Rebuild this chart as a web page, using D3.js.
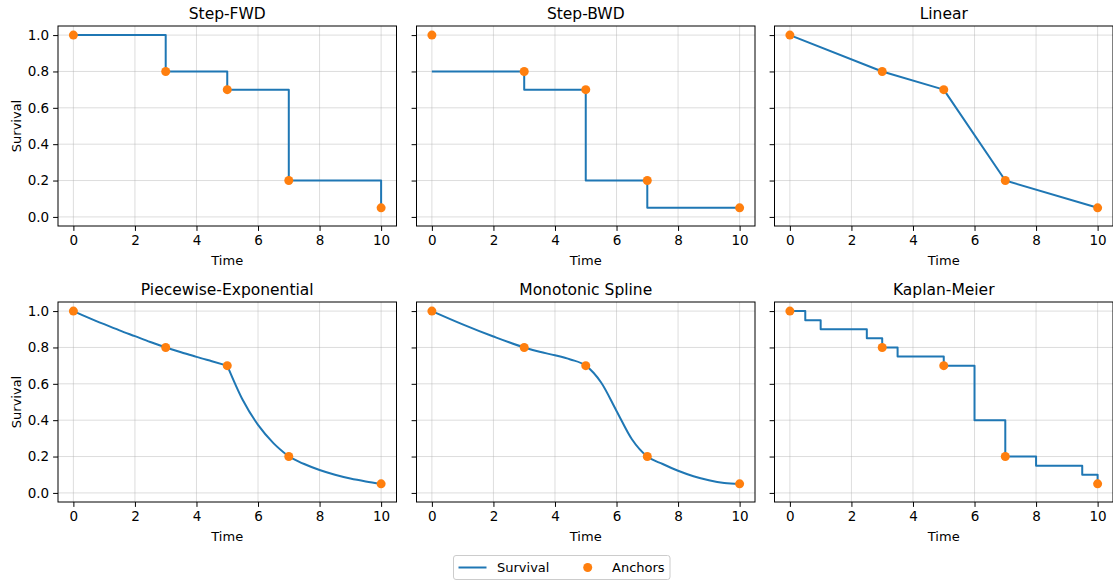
<!DOCTYPE html>
<html>
<head>
<meta charset="utf-8">
<script src="https://cdn.jsdelivr.net/npm/d3@7"></script>
<style>
  body { margin: 0; background: #fff; }
  text { font-family: "DejaVu Sans", sans-serif; fill: #000; }
</style>
</head>
<body>
<div id="my_dataviz"></div>
<script>
// anchor points shared by every panel
var anchorT = [0, 3, 5, 7, 10];
var anchorS = [1.0, 0.8, 0.7, 0.2, 0.05];

// step backward: value of the next anchor held over each interval
var bwdT = [0, 3, 5, 7, 10];
var bwdS = [0.8, 0.7, 0.2, 0.05, 0.05];

// piecewise-exponential curve
var pexpT = [0, 0.5, 1, 1.5, 2, 2.5, 3, 3.5, 4, 4.5, 5, 5.5, 6, 6.5, 7, 7.5, 8, 8.5, 9, 9.5, 10];
var pexpS = [1.0, 0.963, 0.928, 0.894, 0.862, 0.830, 0.8, 0.774, 0.748, 0.724, 0.7, 0.512, 0.374, 0.274, 0.2, 0.159, 0.126, 0.1, 0.079, 0.063, 0.05];

// monotonic spline curve
var splT = [0, 1, 2, 3, 3.5, 4, 4.5, 5, 5.5, 6, 6.5, 7, 7.5, 8, 8.5, 9, 9.5, 10];
var splS = [1.0, 0.927, 0.860, 0.8, 0.776, 0.757, 0.734, 0.7, 0.607, 0.451, 0.295, 0.2, 0.159, 0.122, 0.092, 0.070, 0.055, 0.05];

// Kaplan-Meier steps
var kmT = [0, 0.5, 1, 2.5, 3, 3.5, 5, 6, 7, 8, 9.5, 10];
var kmS = [1.0, 0.95, 0.9, 0.85, 0.8, 0.75, 0.7, 0.4, 0.2, 0.15, 0.1, 0.05];

var xTicks = [0, 2, 4, 6, 8, 10];
var yTicks = [0.0, 0.2, 0.4, 0.6, 0.8, 1.0];
var titles = ["Step-FWD", "Step-BWD", "Linear", "Piecewise-Exponential", "Monotonic Spline", "Kaplan-Meier"];

var blue = "#1f77b4", orange = "#ff7f0e";
var W = 1113, H = 581;
var colLeft = [58, 416.5, 774.5], colW = 338.5;
var rowTop = [26, 302], rowH = 200;

var svg = d3.select("#my_dataviz")
  .append("svg")
    .attr("width", W)
    .attr("height", H);

function zip(ts, ss) {
  return ts.map(function (t, i) { return [t, ss[i]]; });
}

var panels = [
  { lines: [{ pts: zip(anchorT, anchorS), curve: d3.curveStepAfter }] },
  { lines: [{ pts: zip(bwdT, bwdS), curve: d3.curveStepAfter }] },
  { lines: [{ pts: zip(anchorT, anchorS), curve: d3.curveLinear }] },
  { lines: d3.range(anchorT.length - 1).map(function (k) {
      // one smooth piece per interval between anchors, so the kinks stay
      var pts = zip(pexpT, pexpS).filter(function (p) { return p[0] >= anchorT[k] && p[0] <= anchorT[k + 1]; });
      return { pts: pts, curve: d3.curveMonotoneX };
    }) },
  { lines: [{ pts: zip(splT, splS), curve: d3.curveMonotoneX }] },
  { lines: [{ pts: zip(kmT, kmS), curve: d3.curveStepAfter }] }
];

panels.forEach(function (p, i) {
  var col = i % 3, row = Math.floor(i / 3);
  var g = svg.append("g")
    .attr("transform", "translate(" + colLeft[col] + "," + rowTop[row] + ")");

  var x = d3.scaleLinear().domain([-0.5, 10.5]).range([0, colW]);
  var y = d3.scaleLinear().domain([-0.05, 1.05]).range([rowH, 0]);

  // grid
  g.append("g").selectAll("line").data(xTicks).enter().append("line")
    .attr("x1", function (d) { return x(d); }).attr("x2", function (d) { return x(d); })
    .attr("y1", 0).attr("y2", rowH)
    .attr("stroke", "#b0b0b0").attr("stroke-opacity", 0.55).attr("stroke-width", 0.8);
  g.append("g").selectAll("line").data(yTicks).enter().append("line")
    .attr("y1", function (d) { return y(d); }).attr("y2", function (d) { return y(d); })
    .attr("x1", 0).attr("x2", colW)
    .attr("stroke", "#b0b0b0").attr("stroke-opacity", 0.55).attr("stroke-width", 0.8);

  // axes
  var xAxis = g.append("g")
    .attr("transform", "translate(0," + rowH + ")")
    .call(d3.axisBottom(x).tickValues(xTicks).tickFormat(d3.format("d")).tickSize(4.9).tickPadding(4.5));
  var yAxis = g.append("g")
    .call(d3.axisLeft(y).tickValues(yTicks).tickFormat(col === 0 ? d3.format(".1f") : function () { return ""; })
      .tickSize(4.9).tickPadding(4));
  [xAxis, yAxis].forEach(function (a) {
    a.select(".domain").remove();
    a.selectAll(".tick line").attr("stroke", "#000").attr("stroke-width", 1);
    a.selectAll(".tick text").style("font-size", "13.5px").style("font-family", "DejaVu Sans, sans-serif").attr("fill", "#000");
  });

  // lines
  var line = d3.line().x(function (d) { return x(d[0]); }).y(function (d) { return y(d[1]); });
  p.lines.forEach(function (l) {
    g.append("path")
      .attr("d", line.curve(l.curve)(l.pts))
      .attr("fill", "none")
      .attr("stroke", blue)
      .attr("stroke-width", 2)
      .attr("stroke-linejoin", "round");
  });

  // anchors
  g.append("g").selectAll("circle").data(zip(anchorT, anchorS)).enter().append("circle")
    .attr("cx", function (d) { return x(d[0]); })
    .attr("cy", function (d) { return y(d[1]); })
    .attr("r", 4.5)
    .attr("fill", orange);

  // frame
  g.append("rect")
    .attr("width", colW).attr("height", rowH)
    .attr("fill", "none").attr("stroke", "#000").attr("stroke-width", 1);

  // title and labels
  g.append("text")
    .attr("x", colW / 2).attr("y", -7.5)
    .attr("text-anchor", "middle")
    .style("font-size", "15.5px")
    .text(titles[i]);
  g.append("text")
    .attr("x", colW / 2).attr("y", rowH + 38.5)
    .attr("text-anchor", "middle")
    .style("font-size", "13px")
    .text("Time");
  if (col === 0) {
    g.append("text")
      .attr("transform", "translate(" + (-37) + "," + (rowH / 2) + ") rotate(-90)")
      .attr("text-anchor", "middle")
      .style("font-size", "13px")
      .text("Survival");
  }
});

// legend
var lg = svg.append("g").attr("transform", "translate(453.5,555.5)");
lg.append("rect")
  .attr("width", 216.5).attr("height", 24)
  .attr("rx", 2.5)
  .attr("fill", "#fff").attr("fill-opacity", 0.8)
  .attr("stroke", "#cccccc").attr("stroke-width", 1);
lg.append("line")
  .attr("x1", 5).attr("x2", 33).attr("y1", 12).attr("y2", 12)
  .attr("stroke", blue).attr("stroke-width", 2);
lg.append("text").attr("x", 43.5).attr("y", 16.5).style("font-size", "13px").text("Survival");
lg.append("circle").attr("cx", 134.2).attr("cy", 12).attr("r", 4.5).attr("fill", orange);
lg.append("text").attr("x", 158.5).attr("y", 16.5).style("font-size", "13px").text("Anchors");
</script>
</body>
</html>
